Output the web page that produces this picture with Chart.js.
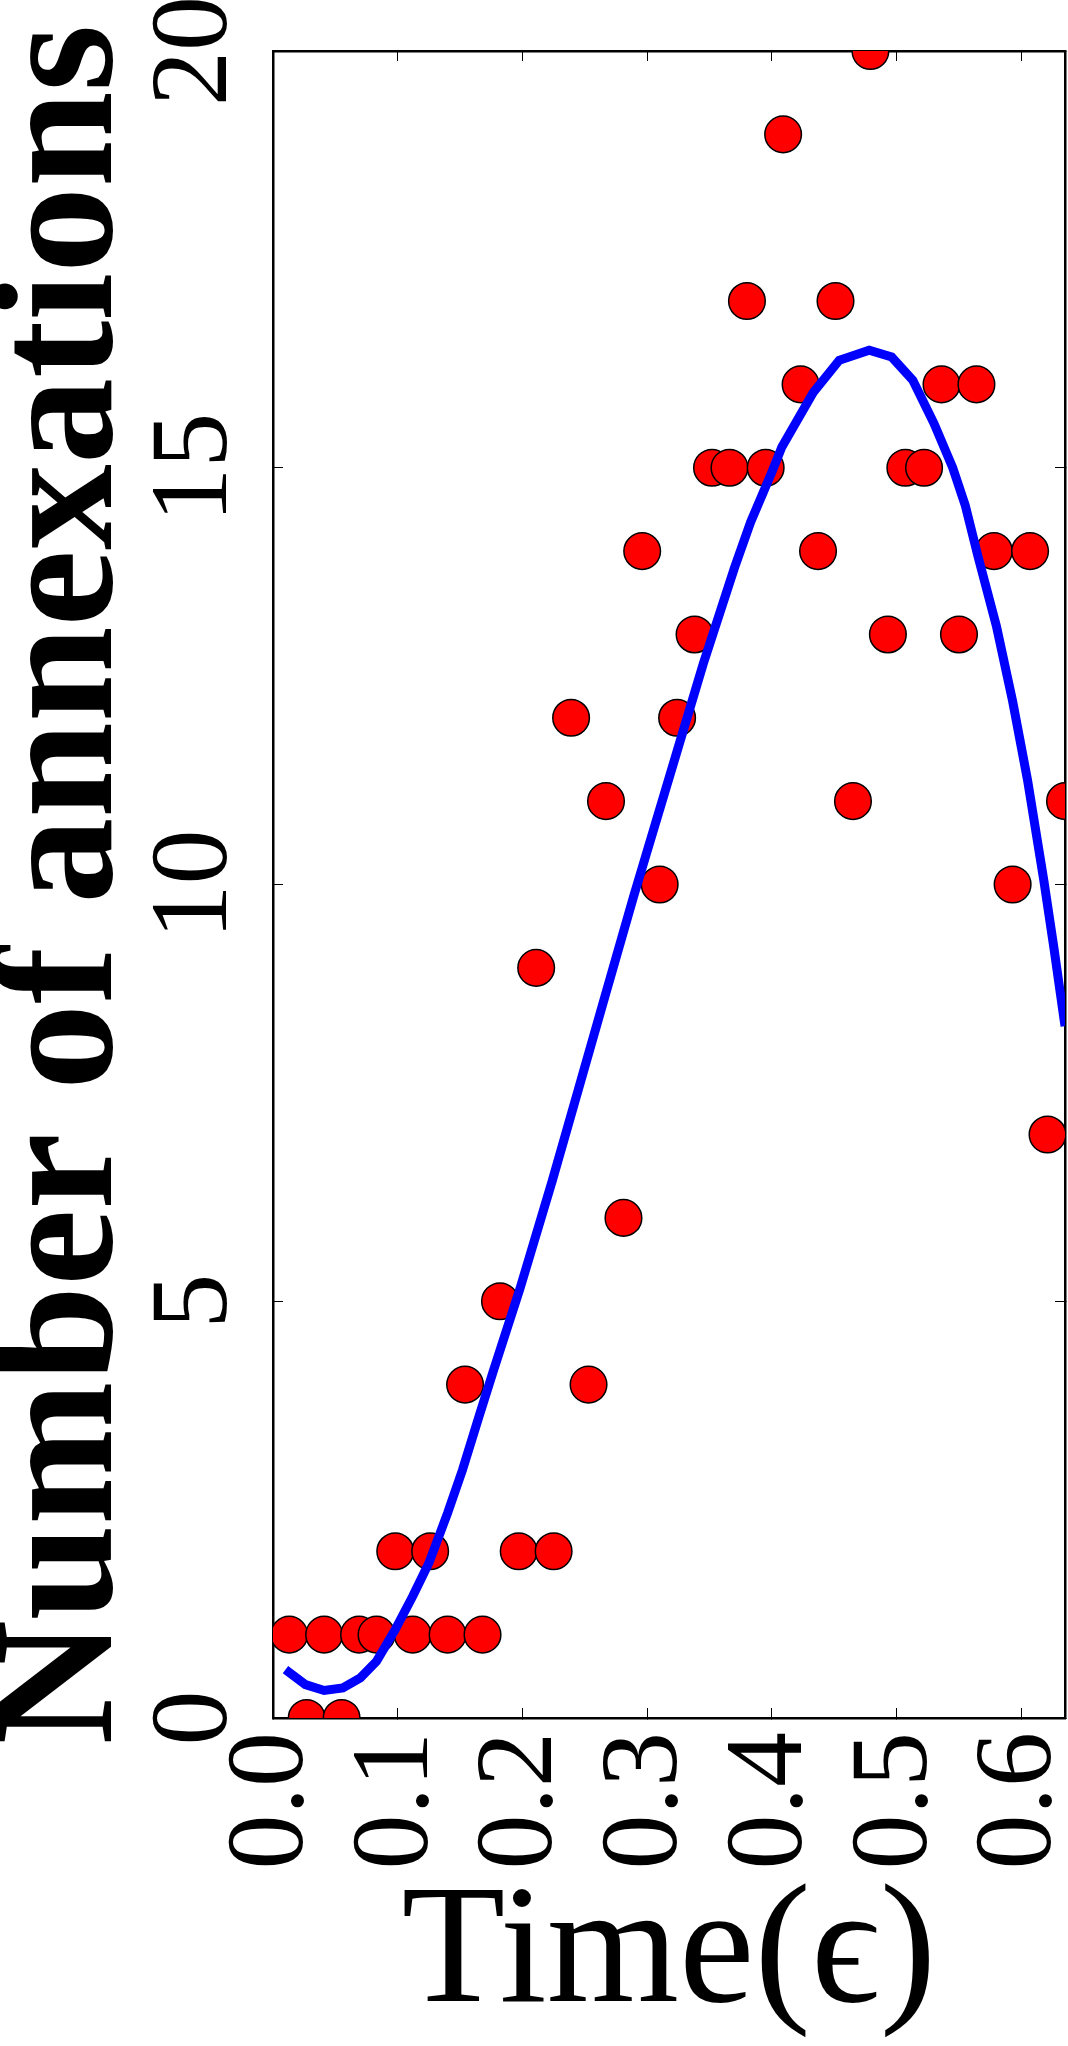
<!DOCTYPE html>
<html>
<head>
<meta charset="utf-8">
<script src="https://cdn.jsdelivr.net/npm/chart.js@4.4.1/dist/chart.umd.min.js"></script>
<style>
  html, body { margin: 0; padding: 0; background: #fff; }
  canvas { display: block; }
</style>
</head>
<body>
<canvas id="myChart" width="1068" height="2046"></canvas>
<script>
const timeValues = [0.013, 0.027, 0.041, 0.055, 0.069, 0.083, 0.098, 0.112, 0.126, 0.140,
                    0.154, 0.168, 0.182, 0.197, 0.211, 0.225, 0.239, 0.253, 0.267, 0.281,
                    0.296, 0.310, 0.324, 0.338, 0.352, 0.366, 0.380, 0.395, 0.409, 0.423,
                    0.437, 0.451, 0.465, 0.479, 0.493, 0.507, 0.522, 0.536, 0.550, 0.564,
                    0.578, 0.593, 0.607, 0.621, 0.635];
const annexations = [1, 0, 1, 0, 1, 1, 2, 1, 2, 1,
                     4, 1, 5, 2, 9, 2, 12, 4, 11, 6,
                     14, 10, 12, 13, 15, 15, 17, 15, 19, 16,
                     14, 17, 11, 20, 13, 15, 15, 16, 13, 16,
                     14, 10, 14, 7, 11];

// fitted curve (blue line)
const fitTime = [0.010, 0.026, 0.041, 0.056, 0.070, 0.083, 0.098, 0.112, 0.125, 0.140,
                 0.152, 0.165, 0.177, 0.198, 0.224, 0.245, 0.266, 0.289, 0.299, 0.324,
                 0.345, 0.370, 0.383, 0.400, 0.408, 0.433, 0.454, 0.478, 0.496, 0.513,
                 0.530, 0.545, 0.555, 0.565, 0.580, 0.593, 0.605, 0.618, 0.626, 0.635];
const fitCount = [0.58, 0.40, 0.33, 0.36, 0.48, 0.68, 1.06, 1.46, 1.86, 2.46,
                  2.98, 3.61, 4.18, 5.15, 6.45, 7.55, 8.65, 9.85, 10.35, 11.6,
                  12.65, 13.8, 14.35, 14.95, 15.25, 15.9, 16.29, 16.41, 16.33, 16.05,
                  15.53, 15.0, 14.55, 13.95, 13.1, 12.2, 11.25, 10.05, 9.25, 8.3];

const xTickValues = [0, 0.1, 0.2, 0.3, 0.4, 0.5, 0.6];
const xTickLabels = ['0.0', '0.1', '0.2', '0.3', '0.4', '0.5', '0.6'];
const yTickValues = [0, 5, 10, 15, 20];
const yTickLabels = ['0', '5', '10', '15', '20'];
const xMax = 0.635;

const serif = '"Liberation Serif", "DejaVu Serif", serif';
const tickFont = { family: serif, size: 110, lineHeight: 1 };
const frame = { color: '#000', width: 2.5 };
const inTicks = { drawOnChartArea: false, color: '#000', lineWidth: 1, tickLength: -10 };

function noPad(s) {
  s.paddingLeft = 0; s.paddingRight = 0; s.paddingTop = 0; s.paddingBottom = 0;
}

const ctx = document.getElementById('myChart');
new Chart(ctx, {
  type: 'scatter',
  data: {
    datasets: [
      {
        type: 'line',
        label: 'fit',
        data: fitTime.map((t, i) => ({ x: t, y: fitCount[i] })),
        borderColor: '#0000ff',
        borderWidth: 9,
        pointRadius: 0,
        fill: false,
        tension: 0
      },
      {
        label: 'annexations',
        data: timeValues.map((t, i) => ({ x: t, y: annexations[i] })),
        backgroundColor: '#ff0000',
        borderColor: '#000',
        borderWidth: 1.5,
        pointRadius: 18.3,
        pointHoverRadius: 18.3
      }
    ]
  },
  options: {
    responsive: false,
    animation: false,
    events: [],
    layout: { autoPadding: false, padding: { top: 51, left: 0, right: 0, bottom: 0 } },
    plugins: {
      legend: { display: false },
      tooltip: { enabled: false }
    },
    scales: {
      x: {
        type: 'linear', position: 'bottom', min: 0, max: xMax, z: 1,
        afterBuildTicks: s => { s.ticks = xTickValues.map(v => ({ value: v })); },
        afterFit: s => { s.height = 328; noPad(s); },
        border: frame,
        grid: inTicks,
        ticks: {
          autoSkip: false, minRotation: 90, maxRotation: 90, padding: 24,
          color: '#000', font: tickFont,
          callback: (v, i) => xTickLabels[i]
        },
        title: {
          display: true, text: 'Time(ϵ)', color: '#000',
          font: { family: serif, size: 170, lineHeight: 1 },
          padding: { top: 0, bottom: 5 }
        }
      },
      y: {
        type: 'linear', position: 'left', min: 0, max: 20, z: 1,
        afterBuildTicks: s => { s.ticks = yTickValues.map(v => ({ value: v })); },
        afterFit: s => { s.width = 273; noPad(s); },
        border: frame,
        grid: inTicks,
        ticks: {
          minRotation: 90, crossAlign: 'center', padding: 31,
          color: '#000', font: tickFont,
          callback: (v, i) => yTickLabels[i]
        },
        title: {
          display: true, text: 'Number of annexations', color: '#000',
          font: { family: serif, size: 172, weight: 'bold', lineHeight: 0.68 },
          padding: { top: 8, bottom: 0 }
        }
      },
      x2: {
        type: 'linear', position: 'top', min: 0, max: xMax, z: 1,
        afterBuildTicks: s => { s.ticks = xTickValues.map(v => ({ value: v })); },
        afterFit: s => { s.height = 0; noPad(s); },
        border: frame,
        grid: inTicks,
        ticks: { display: false }
      },
      y2: {
        type: 'linear', position: 'right', min: 0, max: 20, z: 1,
        afterBuildTicks: s => { s.ticks = yTickValues.map(v => ({ value: v })); },
        afterFit: s => { s.width = 3; noPad(s); },
        border: frame,
        grid: inTicks,
        ticks: { display: false }
      }
    }
  }
});
</script>
</body>
</html>
